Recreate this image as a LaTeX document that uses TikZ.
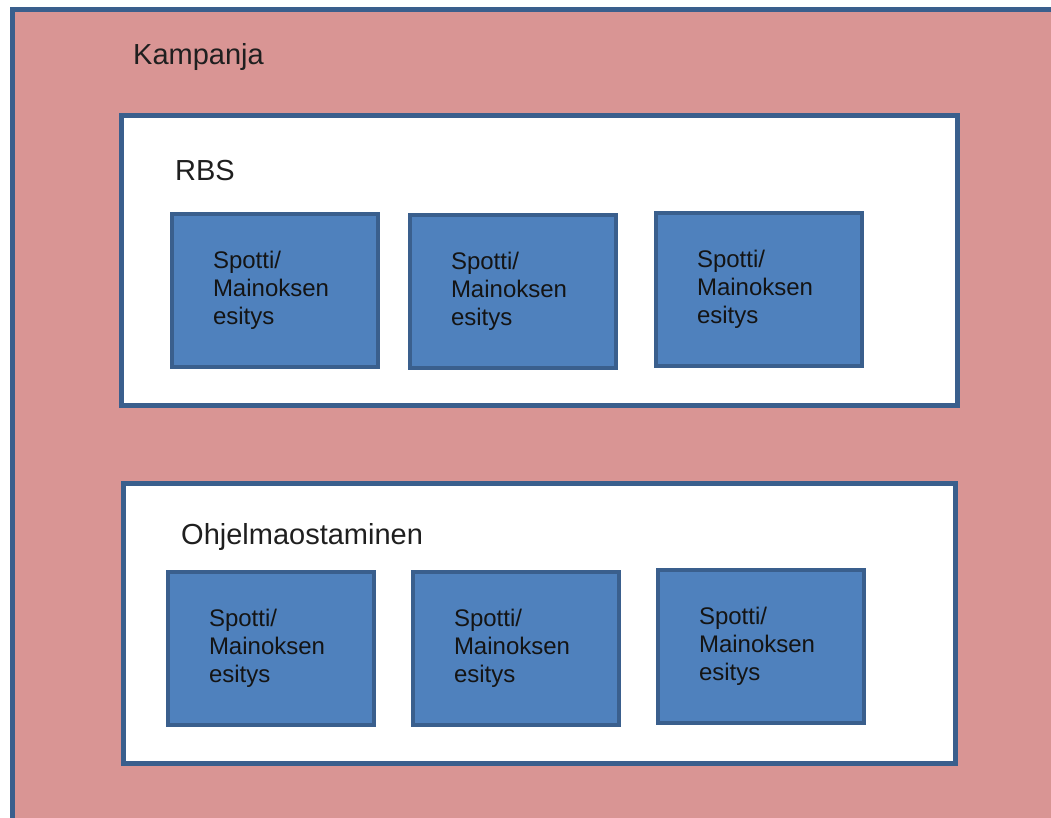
\documentclass[tikz,border=0pt]{standalone}
\usepackage{fontspec}
\setmainfont{Liberation Sans}
\definecolor{kampanjapun}{HTML}{D99594}
\definecolor{reuna}{HTML}{3A5F8D}
\definecolor{spottisin}{HTML}{4F81BD}

\begin{document}
\begin{tikzpicture}[x=1pt,y=-1pt,
    ryhma/.style={draw=reuna,line width=5pt,fill=white},
    otsikko/.style={anchor=base west,inner sep=0pt,font=\fontsize{29}{34}\selectfont,text=black!88},
    spotti/.style={draw=reuna,line width=4pt,fill=spottisin,anchor=north west,
      minimum width=206pt,minimum height=153pt,text width=124pt,inner xsep=41pt,
      align=left,font=\fontsize{24}{28}\selectfont,text=black!92}]
  \useasboundingbox (0,0) rectangle (1051,818);
  \clip (0,0) rectangle (1051,818);
  \draw[draw=reuna,line width=5pt,fill=kampanjapun] (12,10) rectangle (1070,840);
  \node[otsikko] (kampanja) at (133,65) {Kampanja};
  % RBS
  \draw[ryhma] (121.5,115.5) rectangle (957.5,405.5);
  \node[otsikko] (rbs) at (175,181) {RBS};
  \foreach \n/\x/\y in {r1/170/212, r2/408/213, r3/654/211}
    \node[spotti] (\n) at (\x,\y) {Spotti/\\Mainoksen\\esitys};
  % Ohjelmaostaminen
  \draw[ryhma] (123.5,483.5) rectangle (955.5,763.5);
  \node[otsikko] (ohjelma) at (181,544) {Ohjelmaostaminen};
  \foreach \n/\x/\y in {o1/166/570, o2/411/570, o3/656/568}
    \node[spotti] (\n) at (\x,\y) {Spotti/\\Mainoksen\\esitys};
\end{tikzpicture}
\end{document}
